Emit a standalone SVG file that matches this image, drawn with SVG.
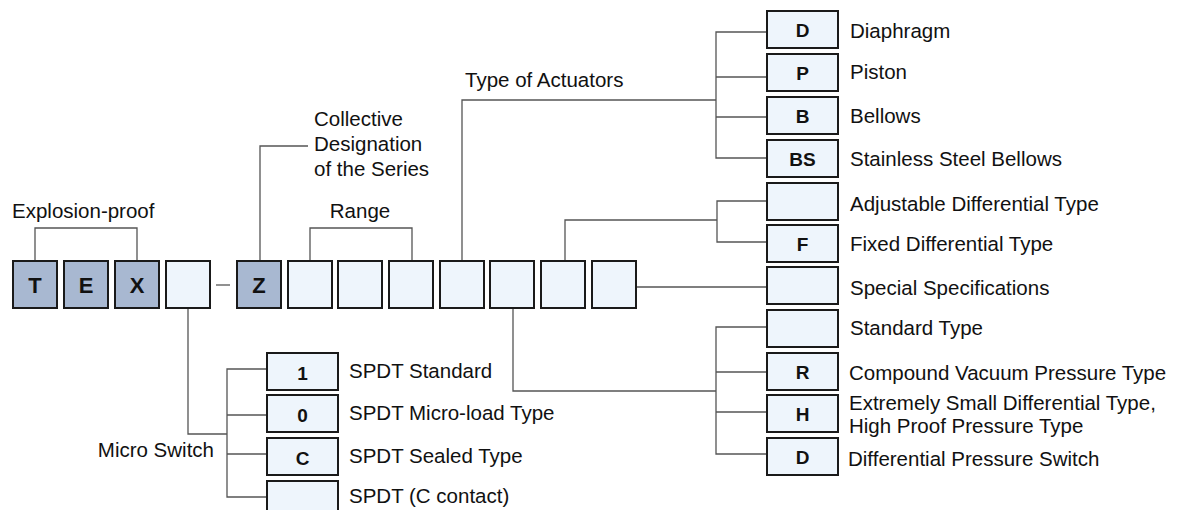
<svg xmlns="http://www.w3.org/2000/svg" width="1180" height="510" viewBox="0 0 1180 510">
<style>
.bg{fill:#ffffff}
.dk{fill:#a8b8d1;stroke:#1a1a1a;stroke-width:2}
.lt{fill:#eef5fc;stroke:#1a1a1a;stroke-width:2}
.ln{fill:none;stroke:#555;stroke-width:1.3}
.t{font-family:"Liberation Sans",Arial,sans-serif;font-size:20.5px;fill:#111}
.bm{font-family:"Liberation Sans",Arial,sans-serif;font-size:22px;font-weight:bold;fill:#111;text-anchor:middle}
.bs{font-family:"Liberation Sans",Arial,sans-serif;font-size:19px;font-weight:bold;fill:#111;text-anchor:middle}
</style>
<rect class="bg" x="0" y="0" width="1180" height="510"/>

<g id="connectors">
<polyline class="ln" points="35,261 35,228 137,228 137,261"/>
<polyline class="ln" points="310,261 310,228 412,228 412,261"/>
<polyline class="ln" points="260,261 260,146 308,146"/>
<line class="ln" x1="216" y1="285" x2="230" y2="285"/>
<polyline class="ln" points="462,261 462,100 716,100"/>
<polyline class="ln" points="767,32 716,32 716,158 767,158"/>
<line class="ln" x1="716" y1="77" x2="767" y2="77"/>
<line class="ln" x1="716" y1="117" x2="767" y2="117"/>
<polyline class="ln" points="565,261 565,220 717,220"/>
<polyline class="ln" points="767,201 717,201 717,242 767,242"/>
<line class="ln" x1="637" y1="287" x2="767" y2="287"/>
<polyline class="ln" points="513,308 513,391 716,391"/>
<polyline class="ln" points="767,327 716,327 716,454 767,454"/>
<line class="ln" x1="716" y1="372" x2="767" y2="372"/>
<line class="ln" x1="716" y1="412" x2="767" y2="412"/>
<polyline class="ln" points="188,308 188,434 227,434"/>
<polyline class="ln" points="267,369 227,369 227,497 267,497"/>
<line class="ln" x1="227" y1="415" x2="267" y2="415"/>
<line class="ln" x1="227" y1="454" x2="267" y2="454"/>
</g>

<g id="labels">
<text class="t" x="12" y="218">Explosion-proof</text>
<text class="t" x="360" y="218" text-anchor="middle">Range</text>
<text class="t" x="314" y="126">Collective</text>
<text class="t" x="314" y="151">Designation</text>
<text class="t" x="314" y="176">of the Series</text>
<text class="t" x="465" y="87">Type of Actuators</text>
<text class="t" x="214" y="457" text-anchor="end">Micro Switch</text>
</g>

<g id="main-row">
<g id="box-T"><rect class="dk" x="13" y="261" width="44" height="47"/><text class="bm" x="35" y="293">T</text></g>
<g id="box-E"><rect class="dk" x="64" y="261" width="44" height="47"/><text class="bm" x="86" y="293">E</text></g>
<g id="box-X"><rect class="dk" x="115" y="261" width="44" height="47"/><text class="bm" x="137" y="293">X</text></g>
<g id="box-4"><rect class="lt" x="166" y="261" width="44" height="47"/></g>
<g id="box-Z"><rect class="dk" x="237" y="261" width="44" height="47"/><text class="bm" x="259" y="293">Z</text></g>
<g id="box-6"><rect class="lt" x="288" y="261" width="44" height="47"/></g>
<g id="box-7"><rect class="lt" x="338" y="261" width="44" height="47"/></g>
<g id="box-8"><rect class="lt" x="389" y="261" width="44" height="47"/></g>
<g id="box-9"><rect class="lt" x="440" y="261" width="44" height="47"/></g>
<g id="box-10"><rect class="lt" x="490" y="261" width="44" height="47"/></g>
<g id="box-11"><rect class="lt" x="541" y="261" width="44" height="47"/></g>
<g id="box-12"><rect class="lt" x="592" y="261" width="44" height="47"/></g>
</g>

<g id="actuators">
<g id="opt-D"><rect class="lt" x="767" y="11" width="71" height="37"/><text class="bs" x="802.5" y="37">D</text><text class="t" x="850" y="38">Diaphragm</text></g>
<g id="opt-P"><rect class="lt" x="767" y="54" width="71" height="37"/><text class="bs" x="802.5" y="80">P</text><text class="t" x="850" y="79">Piston</text></g>
<g id="opt-B"><rect class="lt" x="767" y="97" width="71" height="37"/><text class="bs" x="802.5" y="123">B</text><text class="t" x="850" y="123">Bellows</text></g>
<g id="opt-BS"><rect class="lt" x="767" y="140" width="71" height="37"/><text class="bs" x="802.5" y="166">BS</text><text class="t" x="850" y="166">Stainless Steel Bellows</text></g>
</g>

<g id="differential">
<g id="opt-adj"><rect class="lt" x="767" y="183" width="71" height="37"/><text class="t" x="850" y="211">Adjustable Differential Type</text></g>
<g id="opt-F"><rect class="lt" x="767" y="225" width="71" height="37"/><text class="bs" x="802.5" y="251">F</text><text class="t" x="850" y="251">Fixed Differential Type</text></g>
</g>

<g id="special"><rect class="lt" x="767" y="267" width="71" height="37"/><text class="t" x="850" y="295">Special Specifications</text></g>

<g id="pressure">
<g id="opt-std"><rect class="lt" x="767" y="310" width="71" height="37"/><text class="t" x="850" y="335">Standard Type</text></g>
<g id="opt-R"><rect class="lt" x="767" y="353" width="71" height="37"/><text class="bs" x="802.5" y="379">R</text><text class="t" x="849" y="380">Compound Vacuum Pressure Type</text></g>
<g id="opt-H"><rect class="lt" x="767" y="395" width="71" height="37"/><text class="bs" x="802.5" y="421">H</text><text class="t" x="849" y="410">Extremely Small Differential Type,</text><text class="t" x="849" y="433">High Proof Pressure Type</text></g>
<g id="opt-D2"><rect class="lt" x="767" y="438" width="71" height="37"/><text class="bs" x="802.5" y="464">D</text><text class="t" x="848" y="466">Differential Pressure Switch</text></g>
</g>

<g id="microswitch">
<g id="ms-1"><rect class="lt" x="267" y="353" width="71" height="37"/><text class="bs" x="302.5" y="380">1</text><text class="t" x="349" y="378">SPDT Standard</text></g>
<g id="ms-0"><rect class="lt" x="267" y="395" width="71" height="37"/><text class="bs" x="302.5" y="422">0</text><text class="t" x="349" y="420">SPDT Micro-load Type</text></g>
<g id="ms-C"><rect class="lt" x="267" y="438" width="71" height="37"/><text class="bs" x="302.5" y="465">C</text><text class="t" x="349" y="463">SPDT Sealed Type</text></g>
<g id="ms-blank"><rect class="lt" x="267" y="481" width="71" height="37"/><text class="t" x="349" y="503">SPDT (C contact)</text></g>
</g>
</svg>
